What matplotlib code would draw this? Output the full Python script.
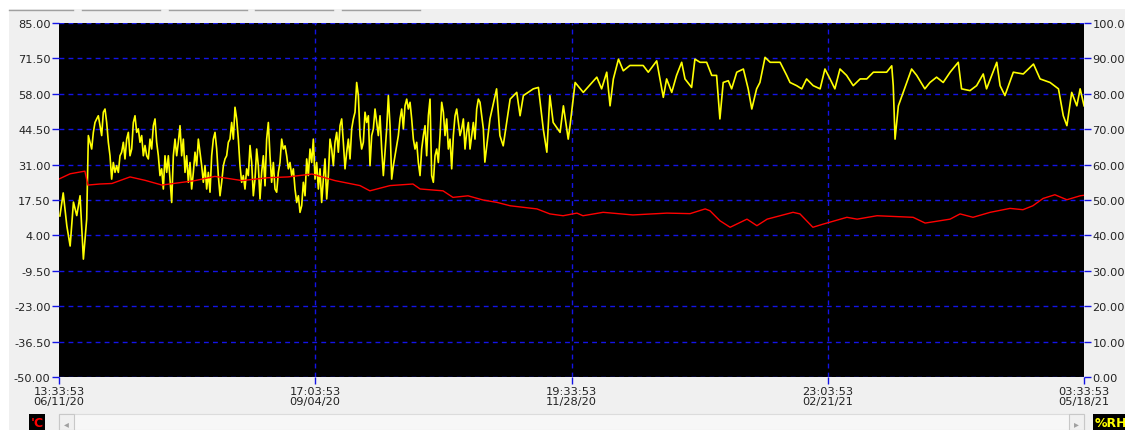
import numpy as np
import matplotlib.pyplot as plt
from matplotlib.patches import Rectangle
from matplotlib.lines import Line2D

# time axis: days since 06/11/20 13:33:53
span_days = 340.583
tick_labels = ['13:33:53\n06/11/20', '17:03:53\n09/04/20', '19:33:53\n11/28/20',
               '23:03:53\n02/21/21', '03:33:53\n05/18/21']

# temperature (left axis, degC)
temp_days = [0, 3.7, 8.6, 9.6, 13.6, 17.6, 23.6, 28.6, 34.2, 45.2, 51.8, 60.8, 69.4,
             76.1, 84.1, 91.7, 100.0, 103.3, 110.0, 117.6, 120.0, 127.6, 130.9, 135.9,
             140.9, 145.5, 149.9, 158.8, 163.1, 167.5, 172.1, 174.1, 180.8, 190.7,
             202.0, 209.7, 214.7, 216.3, 219.6, 223.0, 228.6, 231.9, 235.3, 243.9,
             246.2, 250.5, 253.9, 261.8, 265.2, 271.8, 283.8, 287.8, 296.1, 299.4,
             303.7, 309.4, 316.0, 320.3, 323.6, 327.0, 330.9, 334.9, 339.3, 340.6]
temp_vals = [25.5, 27.5, 28.5, 23.2, 23.6, 23.8, 26.3, 25.0, 23.2, 24.9, 26.5, 24.9, 26.0,
             26.3, 27.4, 24.9, 23.0, 21.0, 23.0, 23.6, 21.7, 21.0, 18.5, 19.1,
             17.5, 16.6, 15.3, 14.1, 12.2, 11.5, 12.5, 11.5, 12.8, 11.8,
             12.5, 12.3, 14.1, 13.4, 9.6, 7.1, 10.2, 7.7, 10.2, 12.8,
             12.2, 7.1, 8.3, 10.9, 10.2, 11.5, 10.9, 8.7, 10.2, 12.2,
             10.9, 12.8, 14.3, 13.8, 15.3, 18.1, 19.5, 17.6, 19.1, 19.3]

# relative humidity (right axis, %RH)
rh_days = [0.3, 1.4, 2.6, 3.7, 4.8, 5.9, 7.0, 8.1, 9.2,
           9.75, 10.30, 10.86, 11.41, 11.96, 12.52, 13.07, 13.62, 14.18, 14.73, 15.29,
           15.84, 16.39, 16.95, 17.50, 18.05, 18.61, 19.16, 19.72, 20.27, 20.82, 21.38,
           21.93, 22.49, 23.04, 23.59, 24.15, 24.70, 25.25, 25.81, 26.36, 26.92, 27.47,
           28.02, 28.58, 29.13, 29.68, 30.24, 30.79, 31.35, 31.90, 32.45, 33.01, 33.56,
           34.11, 34.67, 35.22, 35.78, 36.33, 36.88, 37.44, 37.99, 38.55, 39.10, 39.65,
           40.21, 40.76, 41.31, 41.87, 42.42, 42.98, 43.53, 44.08, 44.64, 45.19, 45.75,
           46.30, 46.85, 47.41, 47.96, 48.51, 49.07, 49.62, 50.18, 50.73, 51.28, 51.84,
           52.39, 52.94, 53.50, 54.05, 54.61, 55.16, 55.71, 56.27, 56.82, 57.37, 57.93,
           58.48, 59.04, 59.59, 60.14, 60.70, 61.25, 61.80, 62.36, 62.91, 63.47, 64.02,
           64.57, 65.13, 65.68, 66.23, 66.79, 67.34, 67.90, 68.45, 69.00, 69.56, 70.11,
           70.66, 71.22, 71.77, 72.33, 72.88, 73.43, 73.99, 74.54,
           75.10, 75.65, 76.21, 76.76, 77.32, 77.87, 78.42, 78.98, 79.53, 80.08, 80.64,
           81.19, 81.75, 82.30, 82.85, 83.41, 83.96, 84.51, 85.07, 85.62, 86.18, 86.73,
           87.28, 87.84, 88.39, 88.95, 89.50, 90.05, 90.61, 91.16, 91.71, 92.27, 92.82,
           93.38, 93.93, 94.48, 95.04, 95.59, 96.14, 96.70, 97.25, 97.81, 98.36, 98.91,
           99.47, 100.02, 100.57, 101.13, 101.68, 102.24, 102.79, 103.34, 103.90, 104.45,
           105.01, 105.56, 106.11, 106.67, 107.22, 107.77, 108.33, 108.88, 109.44, 109.99,
           110.54, 111.10, 111.65, 112.20, 112.76, 113.31, 113.87, 114.42, 114.97, 115.53,
           116.08, 116.64, 117.19, 117.74, 118.30, 118.85, 119.40, 119.96, 120.51, 121.07,
           121.62, 122.17, 122.73, 123.28, 123.83, 124.39, 124.94, 125.50, 126.05, 126.60,
           127.16, 127.71, 128.26, 128.82, 129.37, 129.93, 130.48, 131.03, 131.59, 132.14,
           132.70, 133.25, 133.80, 134.36, 134.91, 135.46, 136.02, 136.57, 137.13, 137.68,
           138.23, 138.79, 139.34, 139.89, 140.45, 141.00,
           141.5, 143.2, 145.4, 146.5, 147.6, 149.9, 152.1, 153.2, 154.3, 157.6,
           159.3, 160.9, 162.1, 163.1, 164.2, 166.5, 167.6, 169.2, 169.8, 171.5, 174.2,
           178.7, 180.3, 182.0, 183.1, 184.2, 185.9, 187.5,
           189.7, 194.1, 195.8, 198.6, 200.8, 201.9, 203.6, 205.2, 206.9, 208.0, 210.2,
           211.3, 213.0, 215.2, 216.9, 218.5, 219.6, 220.7, 222.4, 223.5, 225.2, 227.4,
           229.0, 230.2, 231.8, 232.9, 234.6, 236.3, 239.6, 241.8, 242.9, 245.1, 246.8,
           248.4, 250.6, 252.9, 254.5, 256.2, 257.8, 259.5, 261.7, 263.9,
           266.2, 268.4, 270.6, 272.8, 275.0, 276.7, 277.2, 277.8, 278.9, 280.5, 283.3,
           285.0, 287.7, 289.4, 291.6, 293.8, 296.1, 298.8, 299.9, 302.7, 304.9, 307.1,
           308.2, 311.6, 312.7, 314.3, 317.1, 320.4, 323.8, 326.0, 329.3, 332.1, 333.7,
           334.9, 336.5, 338.2, 339.3, 340.6]
rh_vals = [45.5, 52.0, 42.7, 37.0, 49.4, 45.6, 51.2, 33.3, 44.6,
           68.2, 66.3, 64.4, 69.1, 71.9, 72.9, 73.8, 71.0, 68.2, 74.8, 75.7,
           71.9, 66.3, 62.5, 55.9, 60.6, 57.8, 59.7, 57.8, 62.5, 63.5, 66.3,
           61.6, 67.2, 69.1, 62.5, 64.4, 71.9, 73.8, 69.1, 70.1, 66.3, 68.2,
           62.5, 65.4, 62.5, 61.6, 67.2, 64.4, 71.0, 72.9, 66.3, 62.5, 56.9,
           58.8, 53.1, 62.5, 57.8, 62.5, 55.9, 49.3, 62.5, 67.2, 62.5, 66.3,
           71.0, 62.5, 67.2, 57.8, 62.5, 55.0, 60.6, 53.1, 57.8, 63.5, 59.7,
           67.2, 63.5, 59.7, 55.0, 59.7, 53.1, 57.8, 52.2, 62.5, 67.2, 69.1,
           64.4, 56.9, 51.2, 55.0, 59.7, 61.6, 62.5, 66.3, 67.2, 71.9, 67.2,
           76.2, 72.9, 67.2, 59.7, 55.0, 56.9, 53.1, 58.8, 56.9, 65.4, 60.6,
           51.2, 55.9, 64.4, 59.7, 50.3, 57.8, 62.5, 54.0, 67.2, 71.9, 62.5,
           55.0, 60.6, 53.1, 52.2, 57.8, 60.6, 67.2, 64.4,
           65.3, 62.5, 58.8, 60.6, 56.9, 58.8, 53.1, 49.3, 51.2, 46.5, 48.4,
           55.0, 51.2, 61.6, 56.9, 64.4, 60.6, 67.2, 55.9, 60.6, 53.1, 58.8,
           49.3, 55.9, 61.6, 50.3, 56.9, 67.2, 64.4, 59.7, 66.3, 69.1, 63.5,
           71.0, 72.9, 66.3, 58.8, 63.5, 67.2, 61.6, 70.1, 72.9, 74.8, 83.2,
           79.5, 68.2, 64.4, 66.3, 74.8, 71.9, 73.8, 59.7, 68.2, 70.1,
           75.7, 71.9, 68.2, 73.8, 64.4, 56.9, 63.5, 70.1, 79.5, 71.0,
           55.9, 59.7, 62.5, 65.3, 68.2, 72.9, 75.7, 70.1, 76.6, 78.5,
           75.7, 77.6, 72.9, 67.2, 64.4, 66.3, 60.6, 56.9, 64.4, 68.2,
           71.0, 62.5, 73.8, 78.5, 56.9, 55.0, 62.5, 64.4, 60.6, 68.2,
           77.6, 74.8, 68.2, 72.9, 64.4, 67.2, 58.8, 68.2, 73.8, 75.7,
           71.9, 68.2, 70.1, 72.9, 64.4, 69.1, 71.9, 64.4, 68.2, 71.9,
           67.2, 75.7, 78.5, 77.6, 73.8, 70.1,
           60.7, 72.9, 81.4, 68.2, 65.3, 78.5, 80.4, 73.8, 79.5, 81.4,
           81.8, 70.1, 63.5, 79.5, 71.9, 69.1, 76.6, 67.2, 71.0, 83.2, 80.4,
           84.7, 81.4, 86.1, 76.6, 84.2, 89.8, 86.5,
           88.0, 88.0, 86.1, 89.3, 79.0, 84.2, 80.4, 85.2, 88.9, 84.2, 81.8,
           89.8, 88.9, 88.9, 85.2, 85.2, 72.9, 83.2, 83.7, 81.4, 86.1, 87.0,
           81.4, 75.7, 81.4, 83.2, 90.3, 88.9, 88.9, 85.2, 83.2, 82.3, 81.4,
           84.2, 82.3, 81.4, 87.0, 84.2, 81.4, 87.0, 85.2, 82.3,
           84.2, 84.2, 86.1, 86.1, 86.1, 87.9, 82.3, 67.2, 76.6, 80.4, 87.0,
           85.2, 81.4, 83.2, 84.7, 83.2, 86.1, 88.9, 81.4, 80.9, 82.3, 85.6,
           81.4, 88.9, 82.3, 79.5, 86.1, 85.6, 88.4, 84.2, 83.2, 81.4, 73.8,
           71.0, 80.4, 76.6, 81.4, 76.6]

temp_ticks = [85.00, 71.50, 58.00, 44.50, 31.00, 17.50, 4.00, -9.50, -23.00, -36.50, -50.00]
rh_ticks = [0, 10, 20, 30, 40, 50, 60, 70, 80, 90, 100]

W, H = 1125, 431
fig = plt.figure(figsize=(W / 100, H / 100), dpi=100, facecolor='#f0f0f0')

# window chrome
fig.patches.append(Rectangle((0, 1 - 10 / H), 1, 10 / H, transform=fig.transFigure,
                             facecolor='white', edgecolor='none'))
fig.patches.append(Rectangle((0, 0), 9 / W, 1, transform=fig.transFigure,
                             facecolor='white', edgecolor='none'))
for x0, x1 in [(9, 73), (82, 160), (169, 247), (255, 333), (342, 420)]:
    fig.lines.append(Line2D([x0 / W, x1 / W], [1 - 10.5 / H] * 2, transform=fig.transFigure,
                            color='#a0a0a0', lw=1))

ax = fig.add_axes([59 / W, 1 - 378 / H, (1084 - 59) / W, (378 - 24) / H])
ax2 = ax.twinx()

grid_kw = dict(color='#1414e6', lw=1, ls=(0, (3.5, 3)))
ax2.patch.set_visible(True)
ax2.patch.set_facecolor('black')
for t in rh_ticks:
    ax2.axhline(t, zorder=0.5, **grid_kw)
for i in range(1, 4):
    ax2.axvline(span_days * i / 4, zorder=0.5, **grid_kw)

ax2.plot(rh_days, rh_vals, color='#ffff00', lw=1.2, zorder=2)
ax.set_zorder(ax2.get_zorder() + 1)
ax.patch.set_visible(False)
ax.plot(temp_days, temp_vals, color='#ff0000', lw=1.0, zorder=3)

ax.set_xlim(0, span_days)
ax.set_ylim(-50, 85)
ax2.set_ylim(0, 100)

ax.set_yticks(temp_ticks)
ax.set_yticklabels(['%.2f' % t for t in temp_ticks])
ax2.set_yticks(rh_ticks)
ax2.set_yticklabels(['%.2f' % t for t in rh_ticks])
ax.set_xticks([span_days * i / 4 for i in range(5)])
ax.set_xticklabels(tick_labels, linespacing=0.95)

for a in (ax, ax2):
    for s in a.spines.values():
        s.set_visible(False)
    a.tick_params(colors='#1414e6', labelcolor='#222222', labelsize=8.2, length=5, width=1)
ax.tick_params(axis='y', pad=1)
ax2.tick_params(axis='y', pad=1)
ax.tick_params(axis='x', pad=1.5)

# bottom bar: unit badges and scrollbar
fig.patches.append(Rectangle((59 / W, 0), (1084 - 59) / W, 16 / H, transform=fig.transFigure,
                             facecolor='#f7f7f7', edgecolor='#dcdcdc', lw=0.8))
fig.patches.append(Rectangle((59 / W, 0), 15 / W, 16 / H, transform=fig.transFigure,
                             facecolor='#f0f0f0', edgecolor='#c8c8c8', lw=0.8))
fig.patches.append(Rectangle((1069 / W, 0), 15 / W, 16 / H, transform=fig.transFigure,
                             facecolor='#f0f0f0', edgecolor='#c8c8c8', lw=0.8))
fig.text(66.5 / W, 7 / H, '\u25c2', color='#a0a0a0', fontsize=7, ha='center', va='center')
fig.text(1076.5 / W, 7 / H, '\u25b8', color='#a0a0a0', fontsize=7, ha='center', va='center')

fig.patches.append(Rectangle((29 / W, 0), 16 / W, 16 / H, transform=fig.transFigure,
                             facecolor='black', edgecolor='none'))
fig.text(37 / W, 7 / H, "'C", color='#ff0000', fontsize=9, fontweight='bold',
         ha='center', va='center')
fig.patches.append(Rectangle((1093 / W, 0), 32 / W, 16 / H, transform=fig.transFigure,
                             facecolor='black', edgecolor='none'))
fig.text(1095 / W, 7 / H, '%RH', color='#ffff00', fontsize=9, fontweight='bold',
         ha='left', va='center')

fig.savefig('out.png', dpi=100, facecolor=fig.get_facecolor())
